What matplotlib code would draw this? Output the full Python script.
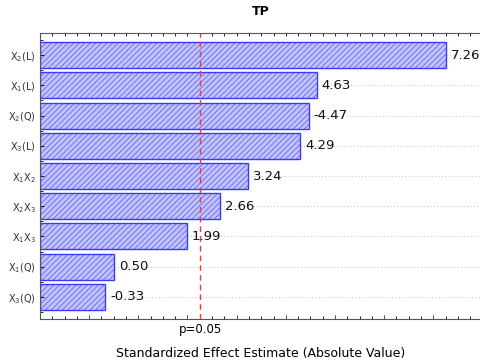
import matplotlib.pyplot as plt
import numpy as np
from matplotlib.ticker import MultipleLocator

# effects, top to bottom
labels = ["X$_2$(L)", "X$_1$(L)", "X$_2$(Q)", "X$_3$(L)", "X$_1$X$_2$",
          "X$_2$X$_3$", "X$_1$X$_3$", "X$_1$(Q)", "X$_3$(Q)"]
effects = [7.26, 4.63, -4.47, 4.29, 3.24, 2.66, 1.99, 0.50, -0.33]
p_crit = 2.26
x_min, x_max = -1.0, 7.97

plt.rcParams['hatch.color'] = '#a8a8f4'
plt.rcParams['hatch.linewidth'] = 0.4

fig = plt.figure(figsize=(4.81, 3.64), dpi=100)
ax = fig.add_axes([40/481, 1-319/364, 1-40/481, (319-33)/364])

y = np.arange(len(effects))[::-1]
vals = np.abs(effects)
ax.barh(y, vals - x_min, left=x_min, height=0.86,
        color="#c2c2fb", edgecolor="#3a3aff", linewidth=1.0, hatch="//////")

for yi, v, e in zip(y, vals, effects):
    ax.text(v + 0.1, yi, f"{e:.2f}", va="center", ha="left", fontsize=9.5, color="#111111")
    ax.plot([v, x_max], [yi, yi], linestyle=(0, (1, 2)), color="#cccccc", lw=0.8, zorder=0)

ax.axvline(p_crit, color="#ff3333", linestyle=(0, (4, 3)), lw=1.0)

ax.set_xlim(x_min, x_max)
ax.set_ylim(-0.73, len(effects) - 1 + 0.73)
ax.set_yticks(y)
ax.set_yticklabels(labels, fontsize=7, color="#333333")
ax.yaxis.set_minor_locator(MultipleLocator(0.5))
ax.set_xticks([p_crit])
ax.set_xticklabels(["p=0.05"], fontsize=8.5)
ax.xaxis.set_minor_locator(MultipleLocator(0.25))
ax.tick_params(axis="x", which="major", length=0, pad=3)
ax.tick_params(axis="x", which="minor", direction="in", length=2, top=True, width=0.6)
ax.tick_params(axis="y", which="major", direction="in", length=3, pad=3, width=0.6)
ax.tick_params(axis="y", which="minor", direction="in", length=2, width=0.6)
for s in ax.spines.values():
    s.set_color("#555555")
ax.spines["right"].set_visible(False)
# major unit ticks
for xv in np.arange(0, 8):
    ax.plot([xv, xv], [-0.73, -0.73 + 0.12], color="#555555", lw=0.6, clip_on=False)

ax.set_title("TP", fontsize=9, fontweight="bold", pad=13)
ax.set_xlabel("Standardized Effect Estimate (Absolute Value)", fontsize=9, labelpad=8)

plt.savefig("out.png", dpi=100)
